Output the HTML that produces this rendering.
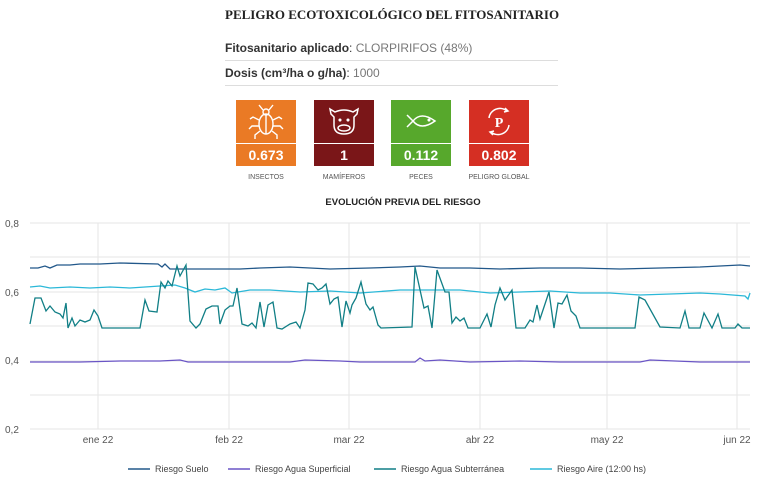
<!DOCTYPE html>
<html><head><meta charset="utf-8"><style>
body{margin:0;width:778px;height:490px;background:#fff;font-family:"Liberation Sans",sans-serif;position:relative;overflow:hidden}
.a{position:absolute}
.t{left:225px;top:7px;font-family:"Liberation Serif",serif;font-weight:bold;font-size:13px;color:#222;white-space:nowrap}
.r{left:225px;width:333px;font-size:12px;color:#333;border-bottom:1px solid #ddd;height:22px;line-height:20px}
.r span{color:#777}
.box{width:60px;height:66px;top:100px}
.box .v{position:absolute;left:0;right:0;top:43px;height:23px;border-top:1px solid #fff;color:#fff;font-weight:bold;font-size:14px;text-align:center;line-height:22px}
.lab{top:174px;font-size:7px;color:#555;width:100px;text-align:center}
</style></head><body>
<div class="a t">PELIGRO ECOTOXICOLÓGICO DEL FITOSANITARIO</div>
<div class="a r" style="top:38px"><b>Fitosanitario aplicado</b>: <span>CLORPIRIFOS (48%)</span></div>
<div class="a r" style="top:63px"><b>Dosis (cm³/ha o g/ha)</b>: <span>1000</span></div>
<div class="a box" style="left:236px;background:#ea7a25"><svg width="60" height="42" viewBox="0 0 60 42" fill="none" stroke="#fff" stroke-width="1.4"><ellipse cx="30" cy="24" rx="7" ry="10"/><line x1="30" y1="15" x2="30" y2="34"/><circle cx="30" cy="12" r="3"/><path d="M27 10l-4-5M33 10l4-5M23 20l-6-3-3 2M37 20l6-3 3 2M23 26h-7l-3 3M37 26h7l3 3M24 31l-5 4v4M36 31l5 4v4"/></svg><div class="v">0.673</div></div>
<div class="a box" style="left:314px;background:#7a1618"><svg width="60" height="42" viewBox="0 0 60 42" fill="none" stroke="#fff" stroke-width="1.5"><path d="M21 12q9-4 18 0l5-3-1 5-3 3v8q0 9-10 9t-10-9v-8l-3-3-1-5z"/><ellipse cx="30" cy="28" rx="6" ry="3"/><circle cx="26" cy="20" r=".8"/><circle cx="34" cy="20" r=".8"/></svg><div class="v">1</div></div>
<div class="a box" style="left:391px;background:#57a82c"><svg width="60" height="42" viewBox="0 0 60 42" fill="none" stroke="#fff" stroke-width="1.5"><path d="M16 15l6 6-6 6M22 21q8-10 22 0q-14 10-22 0z"/><circle cx="38" cy="20" r=".8"/></svg><div class="v">0.112</div></div>
<div class="a box" style="left:469px;background:#d52f23"><svg width="60" height="42" viewBox="0 0 60 42" fill="none" stroke="#fff" stroke-width="1.5"><path d="M20 18a11 11 0 0 1 18-7M40 25a11 11 0 0 1-18 7"/><path d="M36 8l3 3-4 1M24 35l-3-3 4-1"/><text x="30" y="27" fill="#fff" stroke="none" font-family="Liberation Serif" font-weight="bold" font-size="14" text-anchor="middle">P</text></svg><div class="v">0.802</div></div>
<div class="a lab" style="left:216px">INSECTOS</div>
<div class="a lab" style="left:294px">MAMÍFEROS</div>
<div class="a lab" style="left:371px">PECES</div>
<div class="a lab" style="left:449px">PELIGRO GLOBAL</div>
<div class="a" style="left:0;width:778px;top:197px;text-align:center;font-size:9.5px;font-weight:bold;color:#222;padding-left:28px;box-sizing:border-box">EVOLUCIÓN PREVIA DEL RIESGO</div>
<svg class="a" style="left:0;top:0" width="778" height="490">
<g stroke="#e6e6e6" stroke-width="1">
<line x1="30" y1="223" x2="750" y2="223"/><line x1="30" y1="257" x2="750" y2="257"/><line x1="30" y1="292" x2="750" y2="292"/><line x1="30" y1="326" x2="750" y2="326"/><line x1="30" y1="361" x2="750" y2="361"/><line x1="30" y1="395" x2="750" y2="395"/><line x1="30" y1="429" x2="750" y2="429"/>
<line x1="98" y1="223" x2="98" y2="429"/><line x1="229" y1="223" x2="229" y2="429"/><line x1="349" y1="223" x2="349" y2="429"/><line x1="480" y1="223" x2="480" y2="429"/><line x1="607" y1="223" x2="607" y2="429"/><line x1="737" y1="223" x2="737" y2="429"/>
</g>
<g font-size="10" fill="#555">
<text x="5" y="227">0,8</text><text x="5" y="296">0,6</text><text x="5" y="364">0,4</text><text x="5" y="433">0,2</text>
<g text-anchor="middle"><text x="98" y="443">ene 22</text><text x="229" y="443">feb 22</text><text x="349" y="443">mar 22</text><text x="480" y="443">abr 22</text><text x="607" y="443">may 22</text><text x="737" y="443">jun 22</text></g>
</g>
<g fill="none" stroke-width="1.3">
<polyline stroke="#22588a" points="30,268 38,268 45,266 50,268 57,265 70,265 80,264 100,264 120,263 158,264 162,267 165,264 170,269 200,269 240,269 260,268 290,267 330,269 370,268 400,267 420,266 440,268 470,268 500,269 540,268 580,268 620,269 660,268 700,267 720,266 740,265 750,266"/>
<polyline stroke="#6a55c5" points="30,362 60,362 80,362 120,361 160,361 180,360 188,362 230,362 290,362 305,360 340,361 360,362 415,362 420,358 425,361 440,360 470,362 520,361 560,362 640,362 650,360 700,362 750,362"/>
<polyline stroke="#2bb8d8" points="30,287 40,286 50,288 70,287 90,288 110,287 130,288 160,286 175,285 185,288 195,292 205,289 215,290 225,288 232,293 250,290 270,290 300,292 330,291 360,293 400,290 430,290 460,290 490,293 520,292 550,291 580,293 610,293 640,295 670,294 700,293 720,294 745,296 748,299 750,293"/>
<polyline stroke="#117f86" points="30,324 35,298 41,298 46,311 50,306 55,312 60,314 63,318 66,303 68,328 72,318 75,326 80,320 85,322 90,320 94,310 98,316 102,328 140,328 145,300 149,311 157,312 161,282 165,288 168,281 172,286 177,266 180,276 186,265 190,321 196,328 200,324 206,309 212,306 218,306 220,324 225,310 230,306 233,306 237,288 242,324 248,326 252,323 256,328 260,302 264,327 268,305 273,302 277,328 282,329 290,324 296,322 300,328 305,310 308,283 313,284 318,290 322,288 326,284 330,304 334,299 338,297 342,327 346,301 350,313 352,305 356,298 361,282 366,304 370,310 373,307 378,325 381,328 412,327 415,267 424,308 428,306 432,328 437,270 445,292 449,292 452,323 456,317 460,321 464,318 468,328 480,328 487,314 491,327 495,305 500,288 505,300 512,290 516,328 525,328 530,320 533,322 537,305 540,319 549,292 554,328 558,303 562,304 567,295 571,311 576,316 580,328 635,328 639,297 645,300 660,327 680,328 685,311 689,328 700,328 704,313 712,328 718,314 722,328 735,328 738,324 742,328 750,328"/>
</g>
<g font-size="9" fill="#444">
<line x1="128" y1="469" x2="150" y2="469" stroke="#22588a" stroke-width="1.5"/><text x="155" y="472">Riesgo Suelo</text>
<line x1="228" y1="469" x2="250" y2="469" stroke="#6a55c5" stroke-width="1.5"/><text x="255" y="472">Riesgo Agua Superficial</text>
<line x1="374" y1="469" x2="396" y2="469" stroke="#117f86" stroke-width="1.5"/><text x="401" y="472">Riesgo Agua Subterránea</text>
<line x1="530" y1="469" x2="552" y2="469" stroke="#2bb8d8" stroke-width="1.5"/><text x="557" y="472">Riesgo Aire (12:00 hs)</text>
</g>
</svg>
</body></html>
